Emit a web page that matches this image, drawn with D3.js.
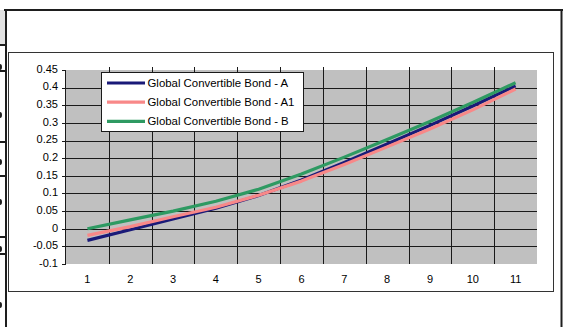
<!DOCTYPE html>
<html>
<head>
<meta charset="utf-8">
<script src="https://cdn.jsdelivr.net/npm/d3@7"></script>
<style>
    html, body { margin: 0; padding: 0; background: #fff; }
    #chart { width: 563px; height: 327px; }
    text { font-family: "Liberation Sans", Arial, sans-serif; font-size: 11px; fill: #000; }
    .leg text { font-size: 11.4px; }
</style>
</head>
<body>
<div id="chart"></div>
<script>
//Datos
let periods = [1, 2, 3, 4, 5, 6, 7, 8, 9, 10, 11];
let serieA = [-0.033, -0.003, 0.028, 0.058, 0.094, 0.138, 0.188, 0.240, 0.293, 0.348, 0.405];
let serieA1 = [-0.019, 0.006, 0.034, 0.061, 0.095, 0.135, 0.182, 0.232, 0.283, 0.337, 0.396];
let serieB = [0.0, 0.025, 0.050, 0.078, 0.112, 0.155, 0.203, 0.253, 0.304, 0.358, 0.414];
let seriesNames = ['Global Convertible Bond - A', 'Global Convertible Bond - A1', 'Global Convertible Bond - B'];
let yTicks = [-0.1, -0.05, 0, 0.05, 0.1, 0.15, 0.2, 0.25, 0.3, 0.35, 0.4, 0.45];
let yTickLabels = ['-0.1', '-0.05', '0', '0.05', '0.1', '0.15', '0.2', '0.25', '0.3', '0.35', '0.4', '0.45'];

let colors = ['#1a1a78', '#f88888', '#2e9a62'];
let series = [serieA, serieA1, serieB];

let svg = d3.select('#chart')
    .append('svg')
    .attr('width', 563)
    .attr('height', 327);

///// MARCO DE LA HOJA (trozo de excel de fondo) /////
svg.append('rect').attr('x', 0).attr('y', 10).attr('width', 5).attr('height', 35).attr('fill', '#e2e2e2');
svg.append('line').attr('x1', 4).attr('x2', 563).attr('y1', 10).attr('y2', 10).attr('stroke', '#1e1e1e').attr('stroke-width', 2);
svg.append('line').attr('x1', 6).attr('x2', 6).attr('y1', 9).attr('y2', 327).attr('stroke', '#1e1e1e').attr('stroke-width', 2);
svg.append('line').attr('x1', 561.5).attr('x2', 561.5).attr('y1', 9).attr('y2', 327).attr('stroke', '#1e1e1e').attr('stroke-width', 2);

[45, 71, 142, 176, 237, 254].forEach(function(y) {
    svg.append('line').attr('x1', 0).attr('x2', 6).attr('y1', y).attr('y2', y).attr('stroke', '#1e1e1e').attr('stroke-width', 2);
});
[67, 115, 162, 202, 249, 305].forEach(function(y) {
    svg.append('ellipse').attr('cx', 0).attr('cy', y).attr('rx', 2).attr('ry', 3).attr('fill', '#1e1e1e');
});

//Marco del gráfico
svg.append('rect')
    .attr('x', 8.5).attr('y', 52.5)
    .attr('width', 545).attr('height', 239)
    .attr('fill', '#fff')
    .attr('stroke', '#333')
    .attr('stroke-width', 1);

///// ESCALAS /////
let plot = {left: 66, right: 537, top: 70, bottom: 264};

let x_c = d3.scaleBand()
    .domain(periods)
    .range([plot.left, plot.right]);

let y_c = d3.scaleLinear()
    .domain([-0.1, 0.45])
    .range([plot.bottom, plot.top]);

//Fondo gris
svg.append('rect')
    .attr('x', plot.left).attr('y', plot.top)
    .attr('width', plot.right - plot.left)
    .attr('height', plot.bottom - plot.top)
    .attr('fill', '#c0c0c0');

//Rejilla horizontal + ticks del eje Y
svg.append('g')
    .selectAll('line')
    .data(yTicks)
    .enter()
    .append('line')
    .attr('x1', plot.left - 4)
    .attr('x2', function(d) { return (d == -0.1 || d == 0.45) ? plot.left : plot.right; })
    .attr('y1', function(d) { return Math.round(y_c(d)) + 0.5; })
    .attr('y2', function(d) { return Math.round(y_c(d)) + 0.5; })
    .attr('stroke', '#1a1a1a')
    .attr('stroke-width', 1);

//Rejilla vertical entre categorías
svg.append('g')
    .selectAll('line')
    .data(periods.slice(1))
    .enter()
    .append('line')
    .attr('x1', function(d) { return Math.round(x_c(d)) + 0.5; })
    .attr('x2', function(d) { return Math.round(x_c(d)) + 0.5; })
    .attr('y1', plot.top - 3)
    .attr('y2', plot.bottom)
    .attr('stroke', '#1a1a1a')
    .attr('stroke-width', 1);

//Eje Y
svg.append('line')
    .attr('x1', plot.left - 0.5).attr('x2', plot.left - 0.5)
    .attr('y1', plot.top).attr('y2', plot.bottom + 1)
    .attr('stroke', '#1a1a1a');

svg.append('g')
    .selectAll('text')
    .data(yTicks)
    .enter()
    .append('text')
    .attr('x', plot.left - 8)
    .attr('y', function(d) { return y_c(d) - 1; })
    .attr('dy', '0.35em')
    .attr('text-anchor', 'end')
    .text(function(d, i) { return yTickLabels[i]; });

//Etiquetas eje X
svg.append('g')
    .selectAll('text')
    .data(periods)
    .enter()
    .append('text')
    .attr('x', function(d) { return x_c(d) + x_c.bandwidth() / 2; })
    .attr('y', 279)
    .attr('dy', '0.35em')
    .attr('text-anchor', 'middle')
    .text(function(d) { return d; });

///// LÍNEAS /////
let line = d3.line()
    .x(function(d, i) { return x_c(periods[i]) + x_c.bandwidth() / 2; })
    .y(function(d) { return y_c(d); });

svg.append('g')
    .selectAll('path')
    .data(series)
    .enter()
    .append('path')
    .attr('d', function(d) { return line(d); })
    .attr('fill', 'none')
    .attr('stroke', function(d, i) { return colors[i]; })
    .attr('stroke-width', 3.2)
    .attr('stroke-linejoin', 'round');

///// LEYENDA /////
let legend = svg.append('g');

legend.append('rect')
    .attr('x', 101.5).attr('y', 72.5)
    .attr('width', 202).attr('height', 59)
    .attr('fill', '#fff')
    .attr('stroke', '#1a1a1a');

let legendItems = legend.selectAll('.leg')
    .data(seriesNames)
    .enter()
    .append('g')
    .attr('class', 'leg')
    .attr('transform', function(d, i) { return 'translate(0,' + (83 + i * 19.2) + ')'; });

legendItems.append('line')
    .attr('x1', 107).attr('x2', 145)
    .attr('y1', 0).attr('y2', 0)
    .attr('stroke', function(d, i) { return colors[i]; })
    .attr('stroke-width', 3.2);

legendItems.append('text')
    .attr('x', 147.5)
    .attr('y', 0)
    .attr('dy', '0.35em')
    .text(function(d) { return d; });
</script>
</body>
</html>
